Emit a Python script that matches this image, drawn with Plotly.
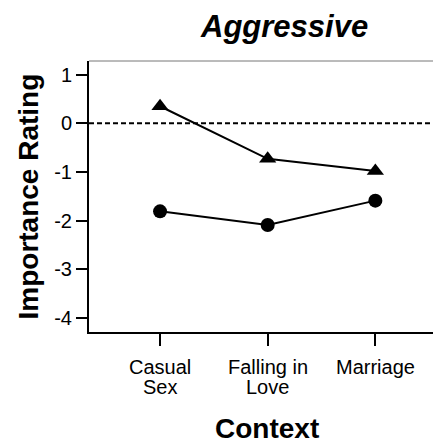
import plotly.graph_objects as go

categories = ["Casual<br>Sex", "Falling in<br>Love", "Marriage"]
cat_pos = [0, 1, 2]
triangle_values = [0.35, -0.73, -0.98]
circle_values = [-1.81, -2.09, -1.59]
y_ticks = [1, 0, -1, -2, -3, -4]

FONT = "Liberation Sans, Arial, sans-serif"
OFF = 8  # default page body margin
W, H = 441, 447
L, T = 89 - OFF, 61 - OFF
R = OFF
B = H - (332 - OFF)
PW, PH = W - L - R, H - T - B


def px_x(p):
    return (p - OFF - L) / PW


def px_y(p):
    return (H - B - (p - OFF)) / PH


fig = go.Figure()
fig.add_trace(go.Scatter(
    x=cat_pos, y=triangle_values, mode="lines+markers",
    line=dict(color="black", width=2),
    marker=dict(symbol="triangle-up", size=15, color="black"),
    showlegend=False, cliponaxis=False))
fig.add_trace(go.Scatter(
    x=cat_pos, y=circle_values, mode="lines+markers",
    line=dict(color="black", width=2),
    marker=dict(symbol="circle", size=14, color="black"),
    showlegend=False, cliponaxis=False))

fig.add_shape(type="line", xref="paper", yref="y", x0=0, x1=1, y0=0, y1=0,
              line=dict(color="black", width=2, dash="5px,3px"), layer="below")
fig.add_shape(type="line", xref="paper", yref="paper", x0=0, x1=1, y0=1, y1=1,
              line=dict(color="#777777", width=1))

annotations = [
    dict(text="Aggressive", xref="paper", yref="paper",
         x=px_x(284), y=px_y(8), xanchor="center", yanchor="top",
         showarrow=False, borderpad=0,
         font=dict(family=FONT, size=31, weight="bold", style="italic")),
    dict(text="Context", xref="paper", yref="paper",
         x=px_x(266.5), y=px_y(428), xanchor="center", yanchor="middle",
         showarrow=False, font=dict(family=FONT, size=28, weight="bold")),
    dict(text="Importance Rating", xref="paper", yref="paper",
         x=px_x(28), y=0.5, xanchor="center", yanchor="middle", textangle=-90,
         showarrow=False, font=dict(family=FONT, size=28, weight="bold")),
]
for xv, label in zip(cat_pos, categories):
    for i, line in enumerate(label.split("<br>")):
        annotations.append(dict(
            text=line, xref="x", yref="paper", x=xv, y=px_y(367 + 20 * i),
            xanchor="center", yanchor="middle", showarrow=False,
            font=dict(family=FONT, size=20)))

fig.update_layout(
    width=W, height=H,
    margin=dict(l=L, r=R, t=T, b=B, autoexpand=False),
    plot_bgcolor="white", paper_bgcolor="white",
    font=dict(family=FONT, color="black", size=20),
    annotations=annotations,
)

fig.update_xaxes(
    range=[-0.66, 2.61], tickvals=cat_pos, ticktext=["" for _ in cat_pos],
    showgrid=False, zeroline=False, showline=True, linecolor="black", linewidth=2,
    ticks="outside", ticklen=12, tickwidth=2, tickcolor="black", automargin=False)
fig.update_yaxes(
    range=[-4.29, 1.28], tickvals=y_ticks, ticktext=[str(v) for v in y_ticks],
    showgrid=False, zeroline=False, showline=True, linecolor="black", linewidth=2,
    ticks="outside", ticklen=11, tickwidth=2, tickcolor="black",
    tickfont=dict(size=20), automargin=False)

fig.write_html("out.html")
